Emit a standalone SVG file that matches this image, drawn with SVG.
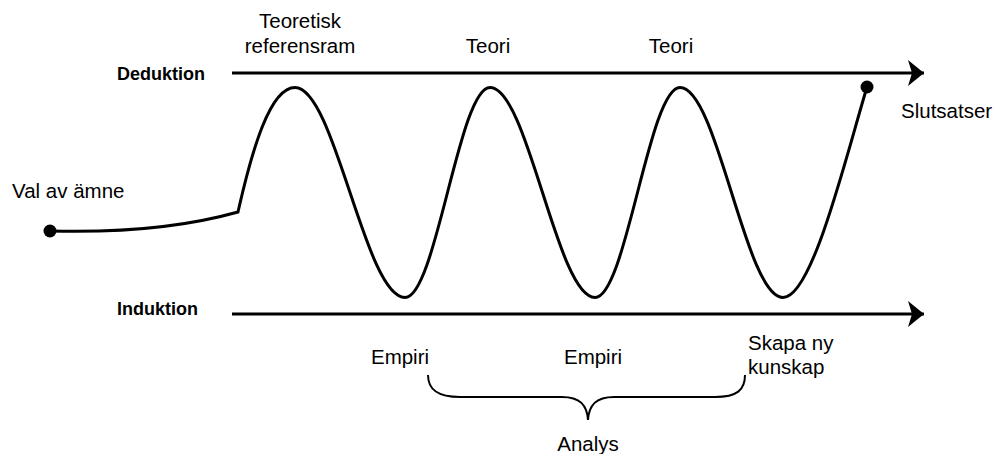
<svg xmlns="http://www.w3.org/2000/svg" width="997" height="454" viewBox="0 0 997 454">
<style>
text{font-family:"Liberation Sans",Arial,sans-serif;font-size:20.5px;fill:#000}
.b{font-weight:bold;font-size:18px}
.ln{fill:none;stroke:#000;stroke-width:3}
.br{fill:none;stroke:#000;stroke-width:2}
</style>
<defs>
<marker id="ah" markerUnits="userSpaceOnUse" markerWidth="20" markerHeight="30" viewBox="0 0 20 30" refX="16" refY="13" orient="auto">
<path d="M16,13 L0,0 L4,13 L0,26 Z" fill="#000"/>
</marker>
</defs>
<g id="connectors">
<line id="deduktion-axis" class="ln" x1="232" y1="73" x2="924" y2="73" marker-end="url(#ah)"/>
<line id="induktion-axis" class="ln" x1="232" y1="314" x2="924" y2="314" marker-end="url(#ah)"/>
<path id="wave" class="ln" d="M50,231 Q160,234 238,212 C252,150 270,87.5 295,87.5 C335,87.5 365,297.5 405,297.5 C436,297.5 459,87.5 490,87.5 C528,87.5 557,297.5 595,297.5 C626,297.5 649,87.5 680,87.5 C717.5,87.5 745.5,297.5 783,297.5 C812,297.5 845,160 867,87"/>
<path id="brace" class="br" d="M428,375 C428,390 438,397 460,397 L562,397 C580,397 587,405 588,420 C589,405 596,397 614,397 L715,397 C737,397 745,390 745,375"/>
</g>
<g id="start-dot"><circle cx="50" cy="231" r="6.5" fill="#000"/></g>
<g id="end-dot"><circle cx="867" cy="87" r="6.5" fill="#000"/></g>
<g id="deduktion"><text class="b" x="117" y="80">Deduktion</text></g>
<g id="induktion"><text class="b" x="117" y="315">Induktion</text></g>
<g id="val-av-amne"><text x="12" y="198">Val av ämne</text></g>
<g id="slutsatser"><text x="901" y="118">Slutsatser</text></g>
<g id="teoretisk-referensram"><text x="300" y="28" text-anchor="middle">Teoretisk</text><text x="300" y="53" text-anchor="middle">referensram</text></g>
<g id="teori-1"><text x="488" y="53" text-anchor="middle">Teori</text></g>
<g id="teori-2"><text x="671" y="53" text-anchor="middle">Teori</text></g>
<g id="empiri-1"><text x="400" y="364" text-anchor="middle">Empiri</text></g>
<g id="empiri-2"><text x="593" y="364" text-anchor="middle">Empiri</text></g>
<g id="skapa-ny-kunskap"><text x="748" y="350">Skapa ny</text><text x="748" y="374">kunskap</text></g>
<g id="analys"><text x="588" y="451" text-anchor="middle">Analys</text></g>
</svg>
